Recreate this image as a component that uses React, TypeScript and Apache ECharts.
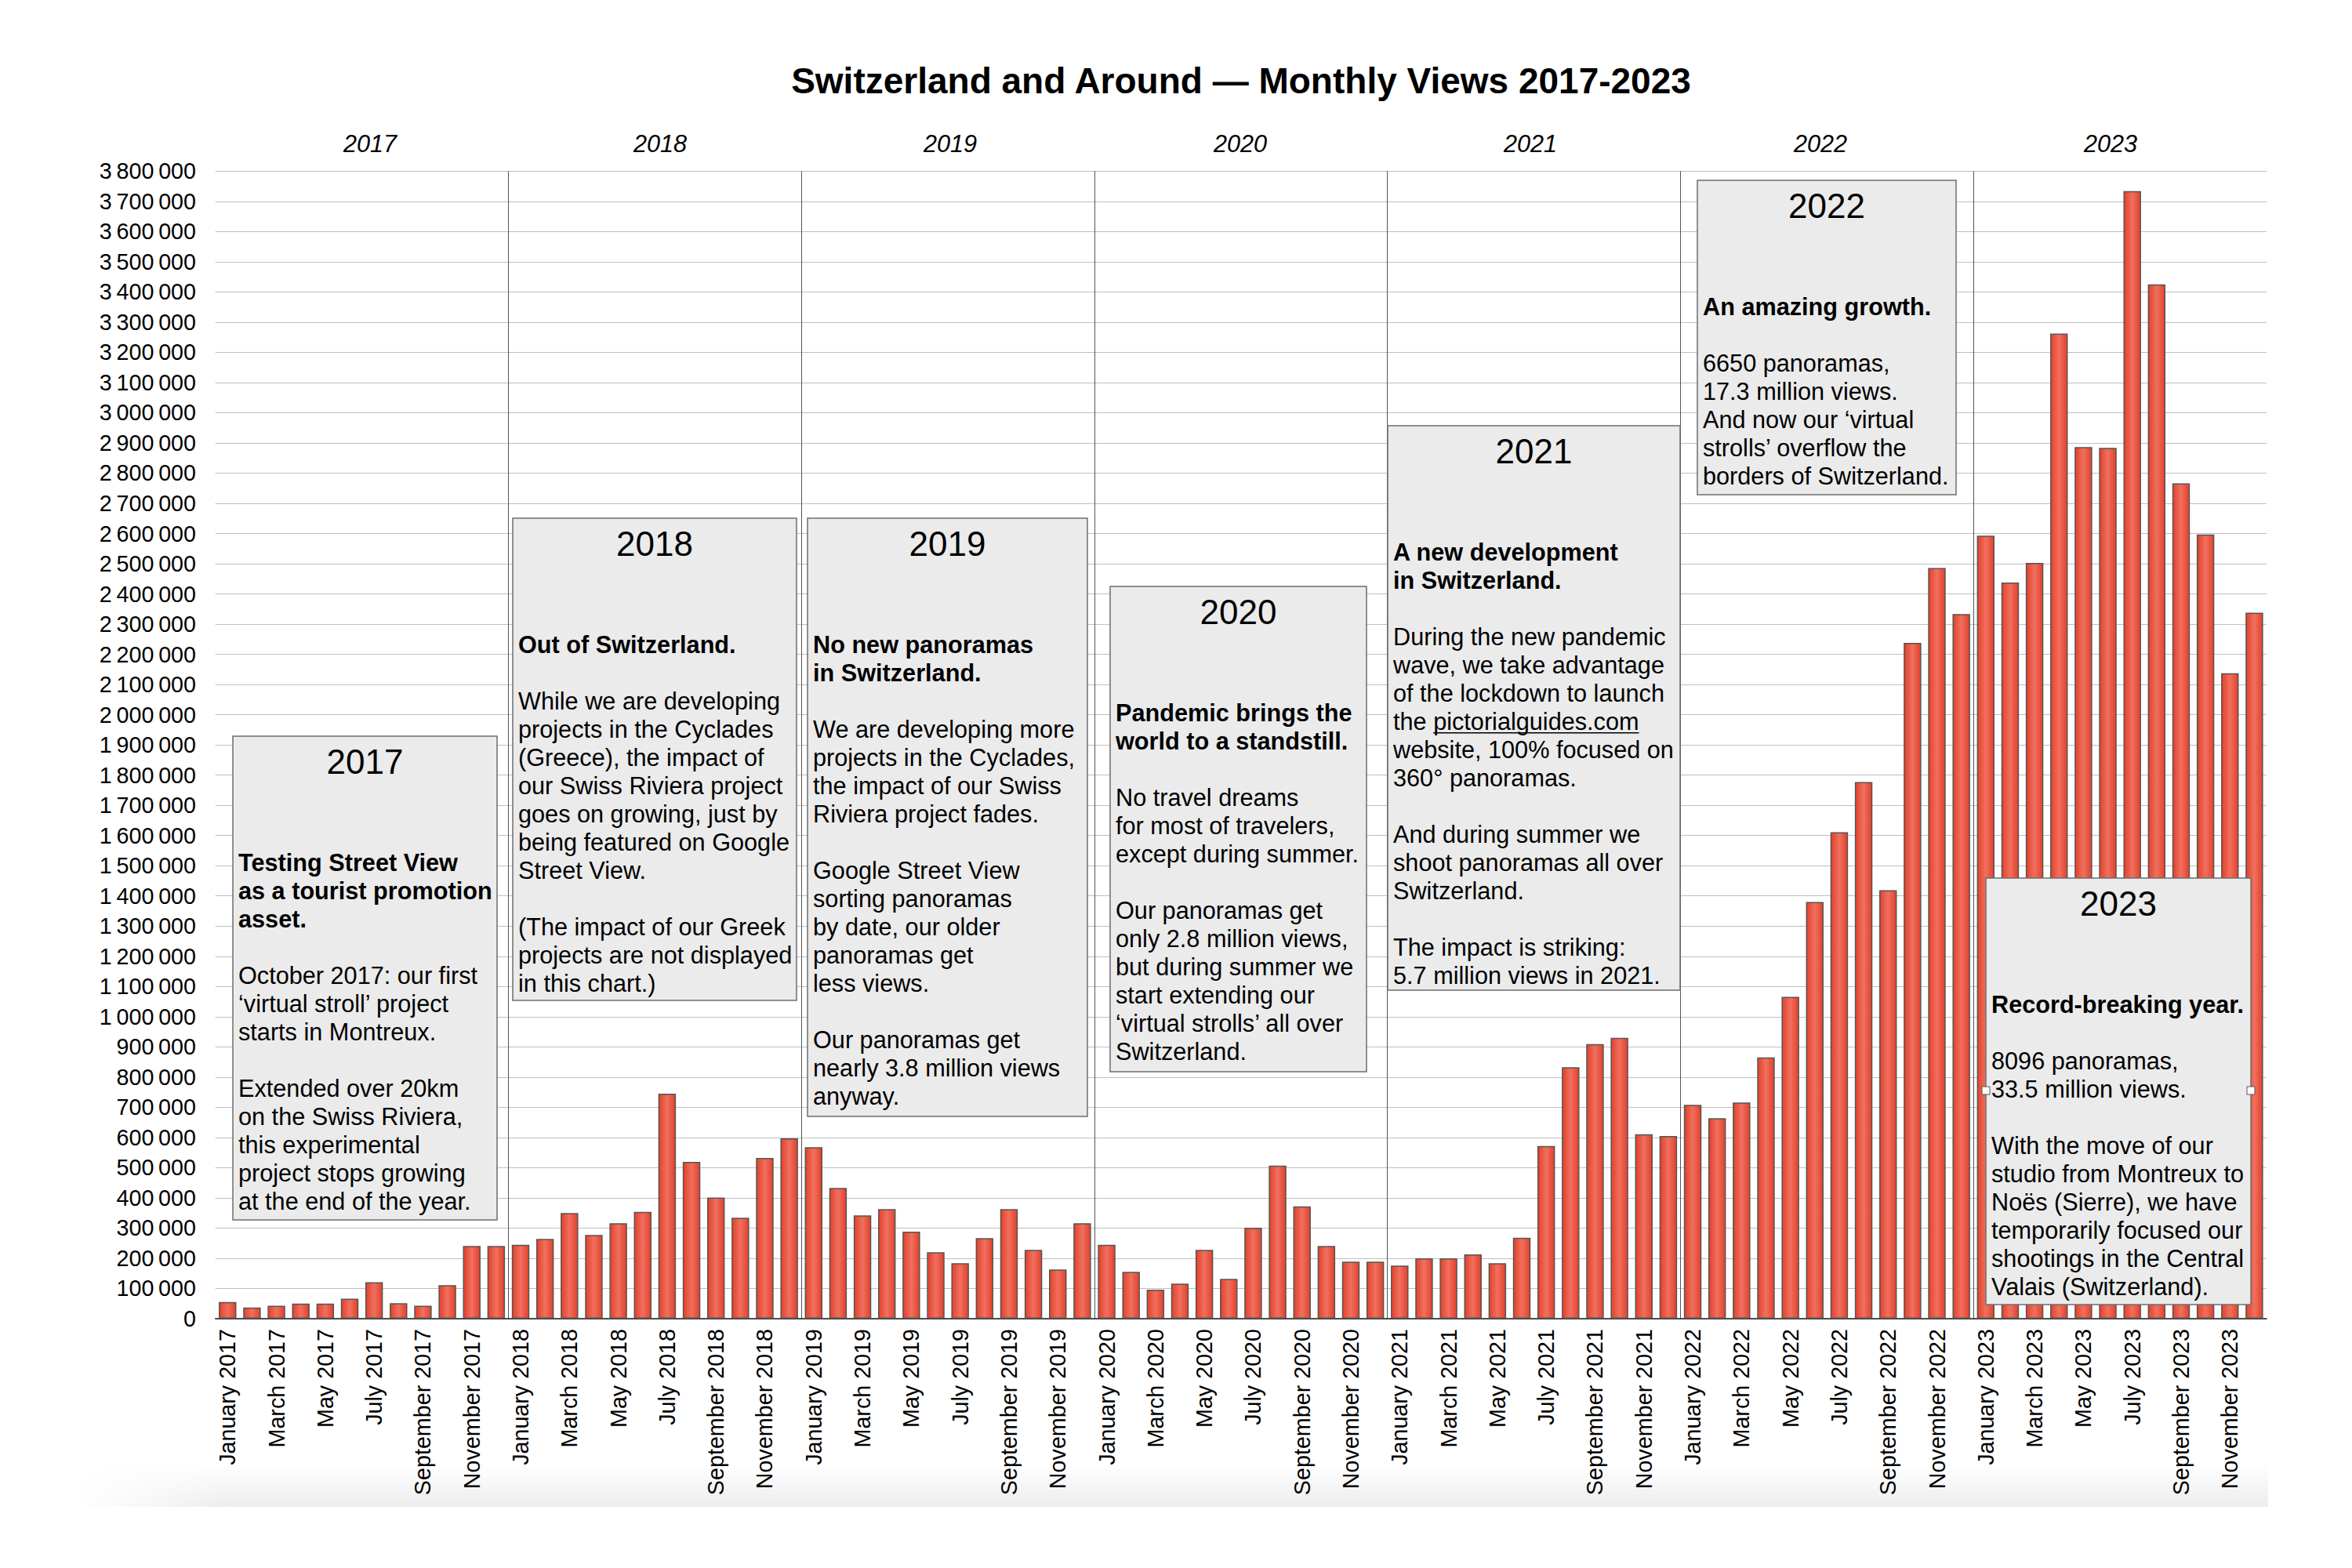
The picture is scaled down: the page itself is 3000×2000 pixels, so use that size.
import React, { useEffect, useRef } from "react";
import * as echarts from "echarts";

const MONTHS = ["January", "February", "March", "April", "May", "June", "July", "August", "September", "October", "November", "December"];
const YEARS = ["2017", "2018", "2019", "2020", "2021", "2022", "2023"];

const views2017 = [55000, 37000, 43000, 50000, 50000, 66000, 121000, 51000, 43000, 111000, 241000, 241000];
const views2018 = [245000, 264000, 350000, 277000, 316000, 354000, 745000, 519000, 401000, 334000, 532000, 597000];
const views2019 = [568000, 433000, 342000, 363000, 288000, 220000, 184000, 267000, 363000, 228000, 163000, 316000];
const views2020 = [245000, 155000, 96000, 116000, 228000, 132000, 301000, 507000, 372000, 241000, 189000, 189000];
const views2021 = [176000, 200000, 200000, 213000, 184000, 268000, 572000, 833000, 909000, 930000, 611000, 605000];
const views2022 = [708000, 664000, 716000, 865000, 1066000, 1380000, 1611000, 1777000, 1419000, 2238000, 2486000, 2333000];
const views2023 = [2593000, 2438000, 2503000, 3262000, 2886000, 2884000, 3734000, 3425000, 2766000, 2597000, 2137000, 2338000];

const categories = YEARS.flatMap((y) => MONTHS.map((m) => `${m} ${y}`));
const values = [...views2017, ...views2018, ...views2019, ...views2020, ...views2021, ...views2022, ...views2023];

const TITLE = "Switzerland and Around \u2014 Monthly Views 2017-2023";

const NOTES = [
  {
    year: "2017",
    bold: ["Testing Street View", "as a tourist promotion", "asset."],
    body: ["", "October 2017: our first", "\u2018virtual stroll\u2019 project", "starts in Montreux.", "", "Extended over 20km", "on the Swiss Riviera,", "this experimental", "project stops growing", "at the end of the year."],
  },
  {
    year: "2018",
    bold: ["Out of Switzerland."],
    body: ["", "While we are developing", "projects in the Cyclades", "(Greece), the impact of", "our Swiss Riviera project", "goes on growing, just by", "being featured on Google", "Street View.", "", "(The impact of our Greek", "projects are not displayed", "in this chart.)"],
  },
  {
    year: "2019",
    bold: ["No new panoramas", "in Switzerland."],
    body: ["", "We are developing more", "projects in the Cyclades,", "the impact of our Swiss", "Riviera project fades.", "", "Google Street View", "sorting panoramas", "by date, our older", "panoramas get", "less views.", "", "Our panoramas get", "nearly 3.8 million views", "anyway."],
  },
  {
    year: "2020",
    bold: ["Pandemic brings the", "world to a standstill."],
    body: ["", "No travel dreams", "for most of travelers,", "except during summer.", "", "Our panoramas get", "only 2.8 million views,", "but during summer we", "start extending our", "\u2018virtual strolls\u2019 all over", "Switzerland."],
  },
  {
    year: "2021",
    bold: ["A new development", "in Switzerland."],
    body: ["", "During the new pandemic", "wave, we take advantage", "of the lockdown to launch", "the pictorialguides.com", "website, 100% focused on", "360\u00b0 panoramas.", "", "And during summer we", "shoot panoramas all over", "Switzerland.", "", "The impact is striking:", "5.7 million views in 2021."],
  },
  {
    year: "2022",
    bold: ["An amazing growth."],
    body: ["", "6650 panoramas,", "17.3 million views.", "And now our \u2018virtual", "strolls\u2019 overflow the", "borders of Switzerland."],
  },
  {
    year: "2023",
    bold: ["Record-breaking year."],
    body: ["", "8096 panoramas,", "33.5 million views.", "", "With the move of our", "studio from Montreux to", "No\u00ebs (Sierre), we have", "temporarily focused our", "shootings in the Central", "Valais (Switzerland)."],
  },
];

// layout of annotation boxes (pixels)
const BOXES = [
  { x: 297, y: 939, w: 337, h: 617 },
  { x: 654, y: 661, w: 362, h: 615 },
  { x: 1030, y: 661, w: 357, h: 763 },
  { x: 1416, y: 748, w: 327, h: 619 },
  { x: 1770, y: 543, w: 373, h: 720 },
  { x: 2165, y: 230, w: 330, h: 401 },
  { x: 2533, y: 1120, w: 338, h: 544 },
];

const FONT = "'Liberation Sans', Arial, Helvetica, sans-serif";
const BODY_SIZE = 30.66;
const LINE_H = 36;

function buildGraphics() {
  const els: any[] = [];
  // soft shadow band at the bottom
  els.push({
    type: "rect",
    z: -10,
    silent: true,
    shape: { x: 100, y: 1867, width: 2793, height: 55 },
    style: {
      fill: {
        type: "linear", x: 0, y: 0, x2: 0, y2: 1,
        colorStops: [{ offset: 0, color: "rgba(238,238,238,0)" }, { offset: 1, color: "rgba(236,236,236,1)" }],
      },
    },
  });
  els.push({
    type: "rect",
    z: -9,
    silent: true,
    shape: { x: 100, y: 1860, width: 200, height: 65 },
    style: {
      fill: {
        type: "linear", x: 0, y: 0, x2: 1, y2: 0,
        colorStops: [{ offset: 0, color: "rgba(255,255,255,1)" }, { offset: 1, color: "rgba(255,255,255,0)" }],
      },
    },
  });
  els.push({
    type: "text",
    z: 50,
    x: 1583,
    y: 103,
    style: { text: TITLE, fill: "#000", fontFamily: FONT, fontWeight: "bold", fontSize: 46, align: "center", verticalAlign: "middle" },
  });
  NOTES.forEach((n, i) => {
    const b = BOXES[i];
    els.push({
      type: "rect",
      z: 50,
      shape: { x: b.x, y: b.y, width: b.w, height: b.h },
      style: { fill: "#ebebeb", stroke: "#6e6e6e", lineWidth: 1.5 },
    });
    els.push({
      type: "text",
      z: 51,
      x: b.x + b.w / 2,
      y: b.y + 32.5,
      style: { text: n.year, fill: "#000", fontFamily: FONT, fontSize: 44, align: "center", verticalAlign: "middle" },
    });
    const lines = [...n.bold.map((t) => ({ t, bold: true })), ...n.body.map((t) => ({ t, bold: false }))];
    lines.forEach((ln, k) => {
      if (!ln.t) return;
      const cy = b.y + 161.3 + k * LINE_H;
      els.push({
        type: "text",
        z: 51,
        x: b.x + 7,
        y: cy,
        style: { text: ln.t, fill: "#000", fontFamily: FONT, fontSize: BODY_SIZE, fontWeight: ln.bold ? "bold" : "normal", align: "left", verticalAlign: "middle" },
      });
      if (ln.t.indexOf("pictorialguides.com") >= 0) {
        const x0 = b.x + 7 + 1.668 * BODY_SIZE;
        const x1 = x0 + 8.558 * BODY_SIZE;
        els.push({
          type: "line",
          z: 51,
          shape: { x1: x0, y1: cy + 14.5, x2: x1, y2: cy + 14.5 },
          style: { stroke: "#000", lineWidth: 1.5 },
        });
      }
    });
    if (n.year === "2023") {
      const hy = b.y + 271;
      [b.x, b.x + b.w].forEach((hx) => {
        els.push({
          type: "rect",
          z: 52,
          shape: { x: hx - 5, y: hy - 5, width: 10, height: 10 },
          style: { fill: "#fff", stroke: "#555", lineWidth: 1 },
        });
      });
    }
  });
  return els;
}

export default function App() {
  const ref = useRef<HTMLDivElement>(null);
  useEffect(() => {
    document.body.style.margin = "0";
    if (!ref.current) return;
    const chart = echarts.init(ref.current, undefined, { renderer: "svg" });
    const barColor = new echarts.graphic.LinearGradient(0, 0, 1, 0, [
      { offset: 0, color: "#e3412a" },
      { offset: 0.5, color: "#f0705f" },
      { offset: 1, color: "#e3412a" },
    ]);
    chart.setOption({
      animation: false,
      backgroundColor: "#ffffff",
      textStyle: { fontFamily: FONT },
      grid: [
        { left: 274.7, right: 109, top: 218.3, bottom: 318, containLabel: false },
        { left: 287, right: 123, top: 218.3, bottom: 318, containLabel: false },
      ],
      xAxis: [
        {
          type: "category",
          gridIndex: 0,
          data: categories,
          position: "bottom",
          axisLine: { show: true, lineStyle: { color: "#1a1a1a", width: 1.5 } },
          axisTick: { show: false },
          axisLabel: { interval: 1, rotate: 90, fontSize: 28.7, color: "#000", fontFamily: FONT, margin: 13 },
          splitLine: { show: false },
        },
        {
          type: "category",
          gridIndex: 0,
          data: YEARS,
          position: "top",
          axisLine: { show: false },
          axisTick: { show: false },
          axisLabel: { show: false },
          splitLine: { show: true, interval: 0, showMinLine: false, showMaxLine: false, lineStyle: { color: "#555", width: 1 } },
        },
        {
          type: "category",
          gridIndex: 1,
          data: YEARS,
          position: "top",
          axisLine: { show: false },
          axisTick: { show: false },
          axisLabel: { interval: 0, fontSize: 30.66, fontStyle: "italic", color: "#000", fontFamily: FONT, margin: 20 },
          splitLine: { show: false },
        },
      ],
      yAxis: [
        {
          type: "value",
          gridIndex: 0,
          min: 0,
          max: 3800000,
          interval: 100000,
          axisLine: { show: false },
          axisTick: { show: false },
          axisLabel: {
            fontSize: 28.7,
            color: "#000",
            fontFamily: FONT,
            margin: 24.7,
            formatter: (v: number) => String(v).replace(/\B(?=(\d{3})+(?!\d))/g, "\u2009"),
          },
          splitLine: { show: true, lineStyle: { color: "#bfbfbf", width: 1.2 } },
        },
        {
          type: "value",
          gridIndex: 1,
          show: false,
          min: 0,
          max: 1,
        },
      ],
      series: [
        {
          type: "bar",
          xAxisIndex: 0,
          yAxisIndex: 0,
          data: values,
          barWidth: "72%",
          itemStyle: { color: barColor, borderColor: "#555555", borderWidth: 1.5 },
          z: 5,
        },
      ],
      graphic: { elements: buildGraphics() },
    });
    return () => chart.dispose();
  }, []);
  return <div ref={ref} style={{ width: 3000, height: 2000 }} />;
}
